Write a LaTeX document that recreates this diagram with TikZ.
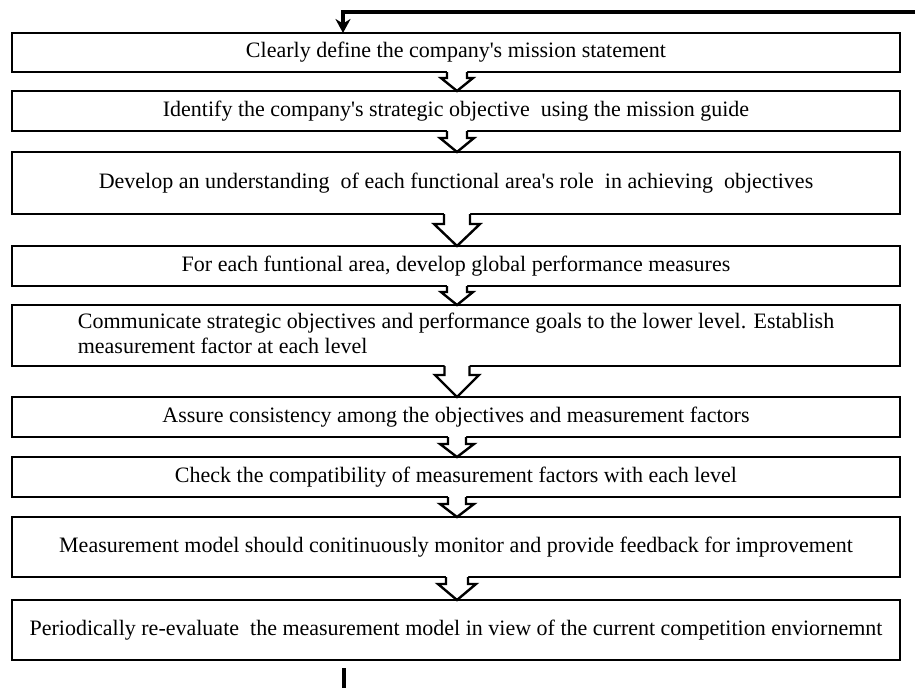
\documentclass[tikz,border=0pt]{standalone}
\usepackage{fontspec}
\setmainfont{Liberation Serif}[Ligatures=TeXOff]
\usetikzlibrary{calc,arrows.meta}
\tikzset{
  stepbox/.style={draw=black, line width=2.6pt, fill=white, outer sep=0pt, inner sep=0pt,
    minimum width=888pt, font=\fontsize{22}{25}\selectfont, align=center},
  arrline/.style={draw=black, line width=2.4pt, line join=miter},
  fbline/.style={draw=black, line width=3.6pt},
}
% #1 from node, #2 to node, #3 half shaft width, #4 half head width, #5 head length
\newcommand{\blockarr}[5]{%
  \fill[white] ($(#1.south)+(1-#3,-2)$) -- ($(#2.north)+(1-#3,-#5)$) -- ($(#2.north)+(1-#4,-#5)$)
     -- ($(#2.north)+(1,0)$) -- ($(#2.north)+(1+#4,-#5)$) -- ($(#2.north)+(1+#3,-#5)$)
     -- ($(#1.south)+(1+#3,-2)$) -- cycle;
  \draw[arrline] ($(#1.south)+(1-#3,0)$) -- ($(#2.north)+(1-#3,-#5)$) -- ($(#2.north)+(1-#4,-#5)$)
     -- ($(#2.north)+(1,0)$) -- ($(#2.north)+(1+#4,-#5)$) -- ($(#2.north)+(1+#3,-#5)$)
     -- ($(#1.south)+(1+#3,0)$);
}
\begin{document}
\begin{tikzpicture}[x=1pt,y=-1pt]
\useasboundingbox (0,0) rectangle (915,688);
\node[stepbox, minimum height=39pt] (b1) at (456,52.5) {Clearly define the company's mission statement};
\node[stepbox, minimum height=40pt] (b2) at (456,111) {Identify the company's strategic objective \ using the mission guide};
\node[stepbox, minimum height=62pt] (b3) at (456,183) {Develop an understanding \ of each functional area's role \ in achieving \ objectives};
\node[stepbox, minimum height=40pt] (b4) at (456,266) {For each funtional area, develop global performance measures};
\node[stepbox, minimum height=61pt] (b5) at (456,335.5) {\begin{tabular}{@{}l@{}}Communicate strategic objectives and performance goals to the lower level. Establish\\measurement factor at each level\end{tabular}};
\node[stepbox, minimum height=40pt] (b6) at (456,417) {Assure consistency among the objectives and measurement factors};
\node[stepbox, minimum height=40pt] (b7) at (456,477) {Check the compatibility of measurement factors with each level};
\node[stepbox, minimum height=60pt] (b8) at (456,547) {Measurement model should conitinuously monitor and provide feedback for improvement};
\node[stepbox, minimum height=60pt] (b9) at (456,630) {Periodically re-evaluate \ the measurement model in view of the current competition enviornemnt};

\blockarr{b1}{b2}{10}{16}{13}
\blockarr{b2}{b3}{10}{17}{14}
\blockarr{b3}{b4}{13}{23}{22}
\blockarr{b4}{b5}{10}{16}{13}
\blockarr{b5}{b6}{12.5}{22}{22}
\blockarr{b6}{b7}{9}{17}{13}
\blockarr{b7}{b8}{9}{17}{13}
\blockarr{b8}{b9}{11}{19}{16}

\coordinate (fbstart) at (915,12);
\coordinate (fbend) at (343,33);
\draw[fbline, -{Stealth[length=14pt,width=15pt]}] (fbstart) -| (fbend);
\coordinate (tailtop) at (344,668);
\coordinate (tailbot) at (344,688);
\draw[fbline] (tailtop) -- (tailbot);
\end{tikzpicture}
\end{document}
